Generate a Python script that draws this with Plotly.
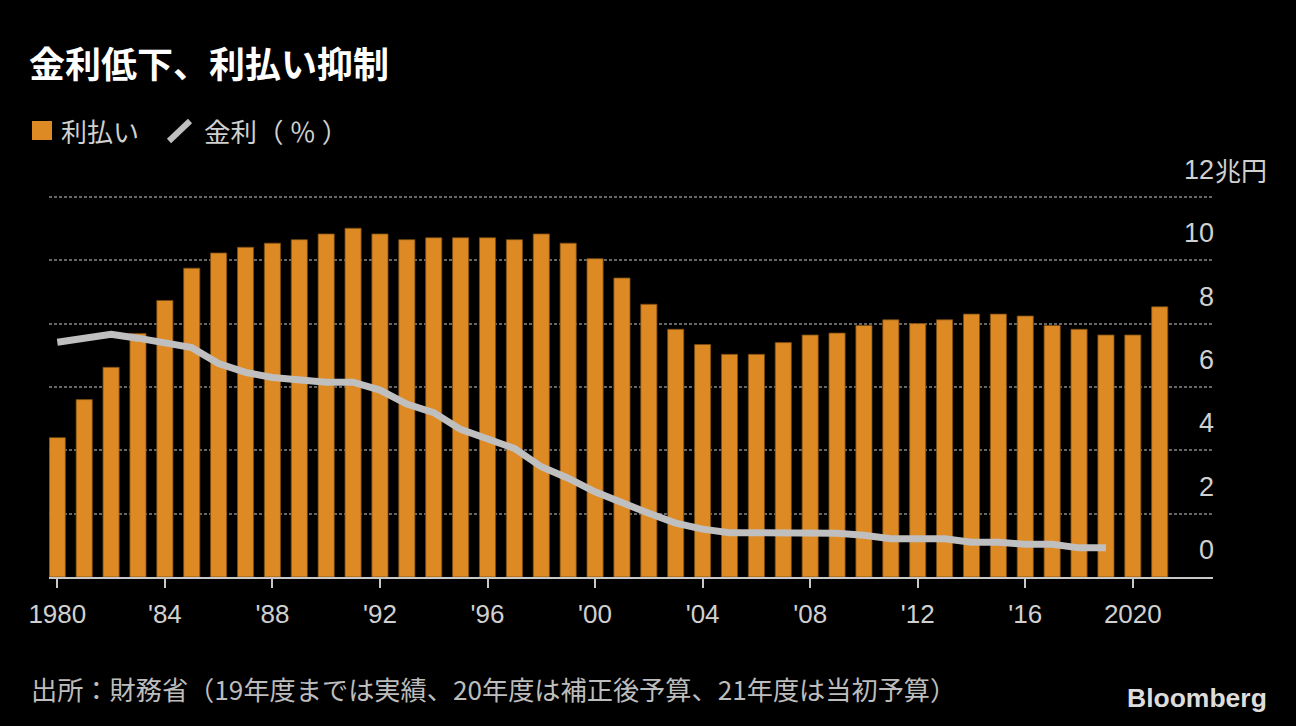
import plotly.graph_objects as go

# ---------------- data ----------------
years = list(range(1980, 2022))
interest_payments = [4.40, 5.60, 6.62, 7.69, 8.73, 9.75, 10.23, 10.41, 10.54, 10.65,
                     10.83, 11.01, 10.83, 10.65, 10.71, 10.71, 10.71, 10.65, 10.83, 10.54,
                     10.05, 9.44, 8.61, 7.82, 7.34, 7.03, 7.03, 7.40, 7.64, 7.70,
                     7.94, 8.12, 8.00, 8.12, 8.30, 8.30, 8.24, 7.94, 7.82, 7.64,
                     7.64, 8.53]
rate_years = list(range(1980, 2020))
interest_rate = [7.41, 7.54, 7.66, 7.54, 7.40, 7.24, 6.74, 6.46, 6.30, 6.20,
                 6.15, 6.15, 5.90, 5.46, 5.19, 4.66, 4.35, 4.06, 3.48, 3.12,
                 2.69, 2.33, 2.01, 1.70, 1.51, 1.40, 1.40, 1.40, 1.40, 1.38,
                 1.32, 1.21, 1.21, 1.21, 1.10, 1.10, 1.03, 1.03, 0.92, 0.92]
x_tickvals = [1980, 1984, 1988, 1992, 1996, 2000, 2004, 2008, 2012, 2016, 2020]
x_ticktext = ["1980", "'84", "'88", "'92", "'96", "'00", "'04", "'08", "'12", "'16", "2020"]
y_tickvals = [0, 2, 4, 6, 8, 10, 12]
y_ticktext = ["0", "2", "4", "6", "8", "10", "12"]

title_text = "金利低下、利払い抑制"
legend_bar = "利払い"
legend_line = "金利（ ％ ）"
unit_text = "兆円"
source_text = "出所：財務省（19年度までは実績、20年度は補正後予算、21年度は当初予算）"
brand_text = "Bloomberg"

# ---------------- style ----------------
W, H = 1296, 726
Y_TOP = 12.06
L, R, B = 49, 1296 - 1213, 726 - 577
PH = 382
T = H - B - PH
PW = W - L - R
ORANGE = "#dd8a24"
LINE_GRAY = "#bfbfbf"
TEXT_GRAY = "#d0d0d0"
NUM_FONT = "Liberation Sans, Arial, sans-serif"
JP_FONT = "Noto Sans CJK JP, sans-serif"


def px(x, y):
    return (x - L) / PW, (H - B - y) / PH


fig = go.Figure()
fig.add_trace(go.Bar(
    x=years, y=interest_payments, width=0.6,
    marker=dict(color=ORANGE, line=dict(color="#7a4c12", width=0.8)),
    showlegend=False, hoverinfo="skip"))
fig.add_trace(go.Scatter(
    x=rate_years, y=interest_rate, mode="lines",
    line=dict(color=LINE_GRAY, width=7),
    showlegend=False, hoverinfo="skip"))

annotations = []
shapes = []

# break in the gridlines between the last bar and the value labels
gx0, _ = px(1169, 0)
gx1, _ = px(1186, 0)
shapes.append(dict(type="rect", xref="paper", yref="paper", x0=gx0, x1=gx1, y0=0.004, y1=1,
                   fillcolor="#000000", line=dict(width=0), layer="between"))

# y-axis tick labels (sit above their gridlines, right-aligned at the plot edge)
lab_x, _ = px(1216, 0)
for v, t in zip(y_tickvals, y_ticktext):
    annotations.append(dict(text=t, x=lab_x, y=v, xref="paper", yref="y",
                            xanchor="right", yanchor="middle", yshift=27, showarrow=False,
                            font=dict(family=NUM_FONT, size=27, color=TEXT_GRAY)))
# unit
ux, _ = px(1213, 0)
annotations.append(dict(text=unit_text, x=ux, y=12, xref="paper", yref="y",
                        xanchor="left", yanchor="middle", yshift=27, showarrow=False,
                        font=dict(family=JP_FONT, size=26, color=TEXT_GRAY)))

# title
tx, ty = px(27, 62)
annotations.append(dict(text="<b>" + title_text + "</b>", x=tx, y=ty, xref="paper", yref="paper",
                        xanchor="left", yanchor="middle", showarrow=False,
                        font=dict(family=JP_FONT, size=36, color="#ffffff")))
# legend
x0, y0 = px(32, 140)
x1, y1 = px(52, 121)
shapes.append(dict(type="rect", xref="paper", yref="paper", x0=x0, y0=y0, x1=x1, y1=y1,
                   fillcolor=ORANGE, line=dict(width=0)))
lx, ly = px(59, 130)
annotations.append(dict(text=legend_bar, x=lx, y=ly, xref="paper", yref="paper",
                        xanchor="left", yanchor="middle", showarrow=False,
                        font=dict(family=JP_FONT, size=26, color=TEXT_GRAY)))
sx0, sy0 = px(169, 141)
sx1, sy1 = px(190, 121)
shapes.append(dict(type="line", xref="paper", yref="paper", x0=sx0, y0=sy0, x1=sx1, y1=sy1,
                   line=dict(color=LINE_GRAY, width=6)))
lx2, ly2 = px(202, 130)
annotations.append(dict(text=legend_line, x=lx2, y=ly2, xref="paper", yref="paper",
                        xanchor="left", yanchor="middle", showarrow=False,
                        font=dict(family=JP_FONT, size=26.5, color=TEXT_GRAY)))
# source
fx, fy = px(29, 689)
annotations.append(dict(text=source_text, x=fx, y=fy, xref="paper", yref="paper",
                        xanchor="left", yanchor="middle", showarrow=False,
                        font=dict(family=JP_FONT, size=26.2, color="#bdbdbd")))
# brand
bx, by = px(1269, 698)
annotations.append(dict(text="<b>" + brand_text + "</b>", x=bx, y=by, xref="paper", yref="paper",
                        xanchor="right", yanchor="middle", showarrow=False,
                        font=dict(family="Liberation Sans, Arial, sans-serif", size=26.5, color="#dddddd")))

fig.update_layout(
    width=W, height=H,
    margin=dict(l=L, r=R, t=T, b=B, pad=0),
    paper_bgcolor="#000000", plot_bgcolor="#000000",
    bargap=0.4,
    annotations=annotations, shapes=shapes,
    xaxis=dict(range=[1979.691, 2022.982], tickvals=x_tickvals, ticktext=x_ticktext,
               showgrid=False, zeroline=False, showline=True, linecolor="#c8c8c8", linewidth=1.5,
               ticks="outside", ticklen=9, tickwidth=1.5, tickcolor="#c8c8c8",
               ticklabelstandoff=4,
               tickfont=dict(family=NUM_FONT, size=26, color=TEXT_GRAY), fixedrange=True),
    yaxis=dict(range=[0, Y_TOP], side="right", tickvals=y_tickvals,
               showticklabels=False, ticks="",
               showgrid=True, gridcolor="#666666", gridwidth=2, griddash="3px,2px",
               zeroline=False, showline=False, fixedrange=True),
)

fig.write_html("out.html", config={"displayModeBar": False},
               post_script="document.body.style.margin='0px';document.body.style.overflow='hidden';")
